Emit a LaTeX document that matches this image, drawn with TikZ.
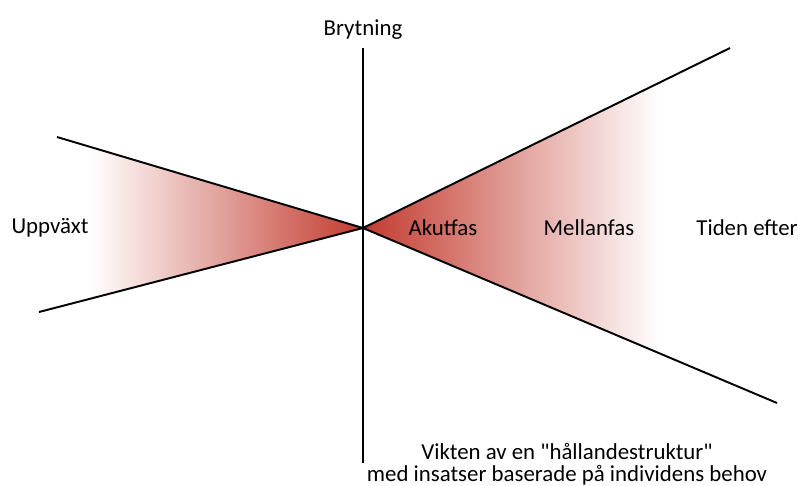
\documentclass[tikz,border=0pt]{standalone}
\usepackage{fontspec}
\setmainfont{Carlito}[Ligatures=TeXOff]
\usepackage{xcolor}
\definecolor{cRed}{HTML}{C23B2F}
\usepackage{tikz}
\usetikzlibrary{positioning, calc}
\tikzset{
  lbl/.style  = {font=\fontsize{13}{12.8}\selectfont, inner sep=0pt, anchor=center},
  axis/.style = {line width=1.6pt, black},
  ray/.style  = {line width=1.1pt, black},
}

\begin{document}
\begin{tikzpicture}[x=0.02cm, y=-0.02cm]

  \useasboundingbox (0,0) rectangle (798,485);

  \coordinate (c)   at (363,228);
  \coordinate (top) at (363,48);
  \coordinate (bot) at (363,463);
  \coordinate (ul)  at (57,137);
  \coordinate (ll)  at (39,312);
  \coordinate (ur)  at (730,48);
  \coordinate (lr)  at (777,403);

  % gradient fills
  \begin{scope}
    \clip (c) -- (ul) -- (ll) -- cycle;
    \shade[left color=white, middle color=cRed!30, right color=cRed]
      (90,130) rectangle (363,320);
  \end{scope}
  \begin{scope}
    \clip (c) -- (ur) -- (lr) -- cycle;
    \shade[left color=cRed, middle color=cRed!22, right color=white]
      (363,40) rectangle (660,410);
  \end{scope}

  \draw[ray] (ul) -- (c) -- (ll);
  \draw[ray] (ur) -- (c) -- (lr);
  \draw[axis] (top) -- (bot);

  \node[lbl] (bryt) at (363,30)  {Brytning};
  \node[lbl] (upp)  at (50,228)  {Uppväxt};
  \node[lbl] (akut) at (443,228) {Akutfas};
  \node[lbl] (mell) at (589,228) {Mellanfas};
  \node[lbl] (tid)  at (747,228) {Tiden efter};
  \node[lbl, align=center] (vikt) at (567,464)
        {Vikten av en "hållandestruktur"\\med insatser baserade på individens behov};

\end{tikzpicture}
\end{document}
